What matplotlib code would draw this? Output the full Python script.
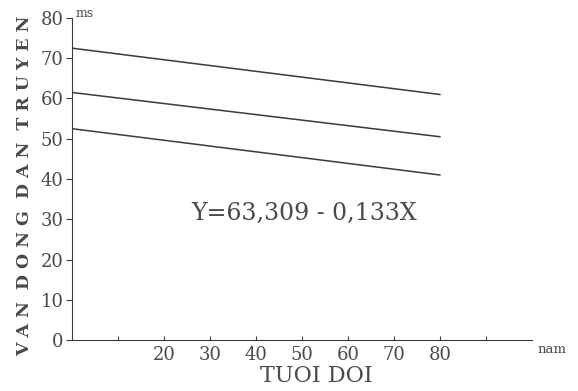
import numpy as np
import matplotlib.pyplot as plt

# values
age = [0, 80]
upper = [72.5, 61.0]
middle = [61.5, 50.5]
lower = [52.5, 41.0]
xticks = [10, 20, 30, 40, 50, 60, 70, 80, 90]
xlabels = ["", "20", "30", "40", "50", "60", "70", "80", ""]
yticks = [0, 10, 20, 30, 40, 50, 60, 70, 80]

ink = "#3a3a3a"
txt = "#4a4a4a"
plt.rcParams["font.family"] = ["DejaVu Serif"]

fig = plt.figure(figsize=(5.78, 3.91), dpi=100)
ax = fig.add_axes([0.1246, 0.1304, 0.7955, 0.8236])

for s in (upper, middle, lower):
    ax.plot(age, s, color=ink, lw=1.1)

ax.set_xlim(0, 100)
ax.set_ylim(0, 80)
ax.spines["top"].set_visible(False)
ax.spines["right"].set_visible(False)
ax.spines["left"].set_color(ink)
ax.spines["bottom"].set_color(ink)

ax.set_xticks(xticks)
ax.set_xticklabels(xlabels, fontsize=13, color=txt)
ax.tick_params(axis="x", direction="in", length=3, color=ink, pad=4)
ax.set_yticks(yticks)
ax.set_yticklabels([str(v) for v in yticks], fontsize=13, color=txt)
ax.tick_params(axis="y", direction="out", length=4, color=ink, pad=2)

# axis titles placed in figure pixels like the scan
fig.text(316 / 578, 1 - 376 / 391, "TUOI DOI", fontsize=16, color=txt,
         ha="center", va="center")
fig.text(25 / 578, 1 - 186 / 391, "V A N  D O N G  D A N  T R U Y E N",
         fontsize=12.5, color=txt, weight="bold", rotation=90,
         ha="center", va="center")

fig.text(0.130, 0.965, "ms", fontsize=9, color=txt, va="center")
fig.text(0.930, 0.105, "nam", fontsize=9.5, color=txt, va="center")
ax.text(50.5, 31.5, "Y=63,309 - 0,133X", fontsize=17, color=txt,
        ha="center", va="center")

fig.savefig("out.png", dpi=100, facecolor="white")
